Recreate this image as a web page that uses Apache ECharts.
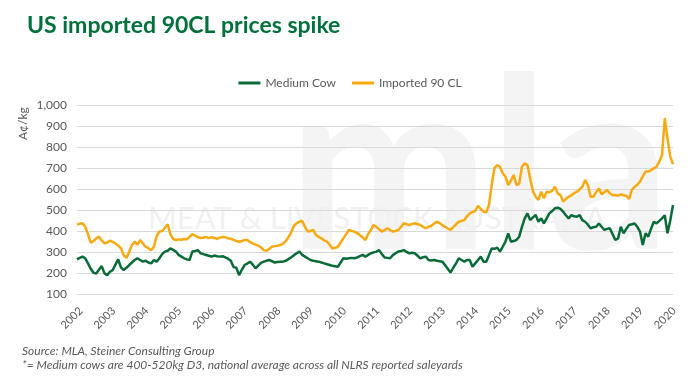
<!DOCTYPE html>
<html>
<head>
<meta charset="utf-8">
<script src="https://cdn.jsdelivr.net/npm/echarts@6/dist/echarts.min.js"></script>
<style>
html,body{margin:0;padding:0;background:#fff;}
#c{width:700px;height:382px;}
</style>
</head>
<body>
<div id="c"></div>
<script>
// Tick labels (years) — January of each year
const yearLabels = ['2002','2003','2004','2005','2006','2007','2008','2009','2010','2011','2012','2013','2014','2015','2016','2017','2018','2019','2020'];
const lastMonthOf2020 = 2; // data runs Jan 2002 – Feb 2020

// Monthly categories
const categories = [];
yearLabels.forEach(function (y) {
  for (let m = 1; m <= 12; m++) {
    if (y === '2020' && m > lastMonthOf2020) break;
    categories.push(y + '-' + (m < 10 ? '0' + m : m));
  }
});

// Medium Cow (A¢/kg)
const mediumCow = [
265,272,278,270,246,220,201,198,215,233,198,190,
206,214,240,265,227,214,225,238,250,262,270,262,
254,258,250,246,262,254,270,290,302,306,317,310,
302,286,278,270,265,262,302,305,309,294,290,286,
282,278,283,280,278,280,274,268,258,228,225,190,
215,238,245,254,240,222,235,248,254,258,262,256,
250,252,254,254,258,266,275,285,294,302,286,278,
270,262,258,256,254,250,246,242,238,234,232,230,
250,270,268,270,272,270,274,280,286,278,286,294,
298,302,309,290,274,272,270,285,294,302,305,309,
300,294,296,294,282,270,275,278,262,260,262,258,
256,254,238,220,202,225,246,270,262,254,262,262,
230,246,262,278,254,254,285,317,315,321,302,325,
349,389,349,352,357,373,420,460,484,452,465,476,
444,460,436,460,484,495,508,511,505,492,475,460,
476,470,468,476,452,444,430,413,418,420,436,420,
405,410,413,385,357,365,420,389,410,429,432,436,
420,397,333,389,373,410,444,436,448,460,475,389,
450,524
];

// Imported 90 CL (A¢/kg)
const imported90CL = [
430,435,437,420,385,345,352,365,373,355,341,345,
354,348,341,330,318,285,272,300,333,349,335,357,
340,325,318,309,325,375,397,400,415,432,385,362,
357,360,358,362,361,372,385,378,370,367,368,372,
366,370,367,362,368,372,370,365,363,358,352,349,
352,357,357,348,341,335,330,322,309,306,315,325,
328,330,333,340,352,370,395,425,438,444,448,420,
397,400,405,381,372,365,355,349,335,317,320,325,
345,365,385,405,400,397,390,381,370,357,385,405,
429,420,408,397,405,413,405,397,400,405,420,437,
432,429,433,437,432,429,420,413,420,425,435,444,
438,429,420,412,405,418,432,444,448,452,470,484,
490,496,520,505,492,489,524,620,700,714,706,675,
659,619,640,667,619,625,706,722,714,650,590,563,
548,587,556,587,585,591,611,579,571,540,552,563,
570,580,587,598,611,643,619,563,563,585,603,575,
585,595,580,571,571,568,575,570,568,552,595,610,
620,635,660,683,683,690,698,706,730,762,937,841,
754,718
];

const yTicks = { min: 100, max: 1000, interval: 100 };

const chart = echarts.init(document.getElementById('c'), null, { renderer: 'canvas' });
const grey = '#595959';
const font = 'Lato, "Open Sans", sans-serif';

chart.setOption({
  animation: false,
  backgroundColor: '#ffffff',
  textStyle: { fontFamily: font },
  title: [{
    text: 'US imported 90CL prices spike',
    left: 22, top: 9,
    textStyle: { color: '#00703c', fontSize: 23, fontWeight: 'bold', fontFamily: font }
  }],
  graphic: [
    { type: 'text', z: -10, left: 288, top: 52, silent: true,
      style: { text: 'mla', fontSize: 240, fontWeight: 'bold', fill: '#f4f4f4', fontFamily: font } },
    { type: 'text', z: -10, left: 148, top: 203, silent: true,
      style: { text: 'MEAT & LIVESTOCK AUSTRALIA', fontSize: 31, fill: '#f1f1f1', fontFamily: font } },
    { type: 'text', x: 17, y: 140, rotation: Math.PI / 2,
      style: { text: 'A¢/kg', fontSize: 12, fill: grey, fontFamily: font } },
    { type: 'text', left: 22, top: 345,
      style: { text: 'Source: MLA, Steiner Consulting Group', fontSize: 12, fontStyle: 'italic', fill: grey, fontFamily: font } },
    { type: 'text', left: 22, top: 359,
      style: { text: '*= Medium cows are 400-520kg D3, national average across all NLRS reported saleyards', fontSize: 12, fontStyle: 'italic', fill: grey, fontFamily: font } }
  ],
  legend: {
    top: 72, left: 'center',
    itemWidth: 22, itemHeight: 3, itemGap: 16,
    icon: 'rect',
    textStyle: { color: grey, fontSize: 12, fontFamily: font },
    data: ['Medium Cow', 'Imported 90 CL']
  },
  grid: { left: 77, right: 27, top: 105, bottom: 88, containLabel: false },
  xAxis: {
    type: 'category',
    data: categories,
    boundaryGap: false,
    axisLine: { show: false },
    axisTick: { show: false },
    splitLine: { show: false },
    axisLabel: {
      interval: function (i) { return i % 12 === 0; },
      formatter: function (v) { return v.slice(0, 4); },
      rotate: 45, verticalAlign: 'top', color: grey, fontSize: 11, margin: 11, fontFamily: font
    }
  },
  yAxis: {
    type: 'value',
    min: yTicks.min, max: yTicks.max, interval: yTicks.interval,
    axisLine: { show: false },
    axisTick: { show: false },
    splitLine: { lineStyle: { color: '#d9d9d9', width: 1 } },
    axisLabel: {
      color: grey, fontSize: 12, margin: 10, fontFamily: font,
      formatter: function (v) { return v.toLocaleString('en-US'); }
    }
  },
  series: [
    { name: 'Medium Cow', type: 'line', data: mediumCow, showSymbol: false, symbol: 'none',
      lineStyle: { color: '#0a6b38', width: 2.5 }, itemStyle: { color: '#0a6b38' } },
    { name: 'Imported 90 CL', type: 'line', data: imported90CL, showSymbol: false, symbol: 'none',
      lineStyle: { color: '#f7aa10', width: 2.5 }, itemStyle: { color: '#f7aa10' } }
  ]
});
</script>
</body>
</html>
